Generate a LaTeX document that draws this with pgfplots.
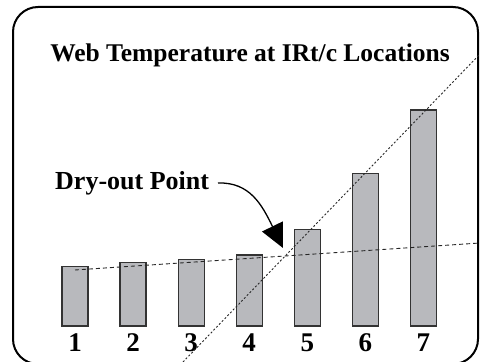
\documentclass[border=0pt]{standalone}
\usepackage{pgfplots}
\pgfplotsset{compat=1.18}
\usepackage{fontspec}
\setmainfont{Liberation Serif}
\usetikzlibrary{arrows.meta}
\definecolor{barfill}{RGB}{184,185,189}
\begin{document}
\begin{tikzpicture}
\useasboundingbox (0pt,0pt) rectangle (480pt,362pt);
\clip (0pt,0pt) rectangle (480pt,362pt);
% rounded frame, bottom runs off the picture
\draw[line width=2pt, rounded corners=25pt] (13pt,-2pt) rectangle (478pt,355pt);
\begin{axis}[
    at={(0pt,36pt)}, anchor=south west,
    width=480pt, height=326pt, scale only axis,
    xmin=-0.2913, xmax=7.973, ymin=0, ymax=326,
    axis line style={draw=none},
    xtick={1,...,7}, ytick=\empty,
    major tick length=0pt,
    xticklabel style={font=\fontsize{27}{27}\selectfont\bfseries, anchor=base, yshift=-25.7pt},
    /pgf/number format/assume math mode=true,
    clip=false,
]
% bars
\addplot[ybar, bar width=26pt, fill=barfill, draw=black!80, line width=1.2pt] coordinates {
    (1,59.3) (2,63.7) (3,66.7) (4,71) (5,96.7) (6,152.3) (7,216)
};
% shallow trend
\addplot[black!85, line width=0.9pt, dash pattern=on 4pt off 3pt] coordinates {
    (1,56) (7.973,83)
};
% steep trend
\addplot[black!85, line width=0.9pt, dash pattern=on 2pt off 2pt] coordinates {
    (2.859,-36) (7.973,272)
};
\end{axis}
\node[anchor=base, font=\fontsize{25.5}{25.5}\selectfont\bfseries] at (250pt,300pt) {Web Temperature at IRt/c Locations};
\node[anchor=base west, inner sep=0pt, font=\fontsize{26}{26}\selectfont\bfseries] at (55pt,172pt) {Dry-out Point};
\draw[line width=1.3pt, -{Triangle[length=24pt,width=23pt]}] (218pt,179pt) .. controls (250pt,180pt) and (262pt,157pt) .. (283pt,114pt);
\end{tikzpicture}
\end{document}
